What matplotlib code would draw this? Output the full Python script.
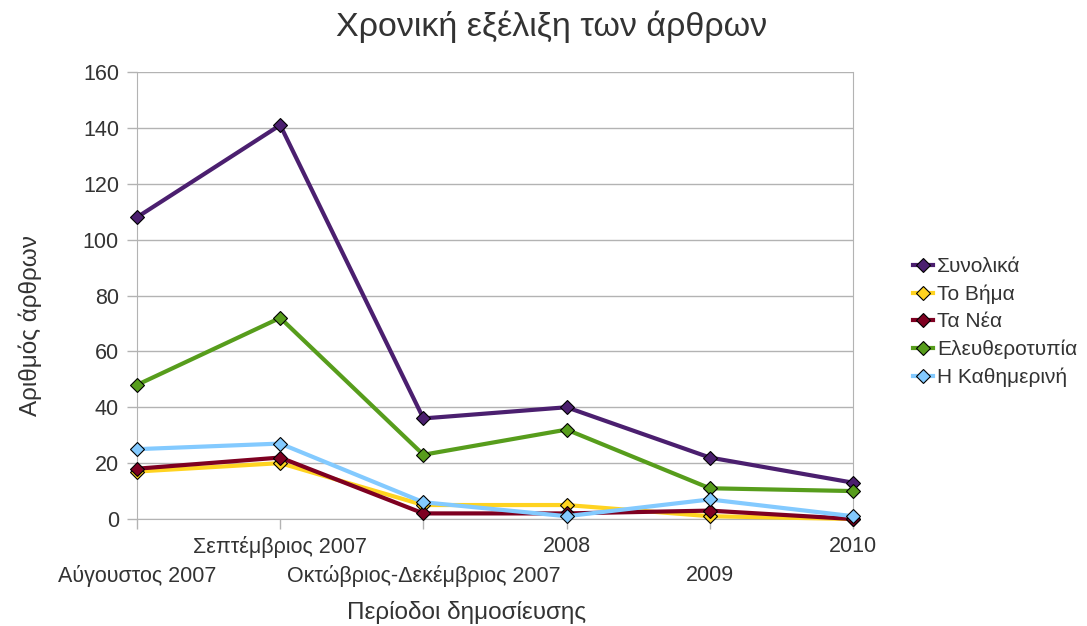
import matplotlib.pyplot as plt

plt.rcParams['font.family'] = ['Liberation Sans', 'DejaVu Sans']

periods = ["Αύγουστος 2007", "Σεπτέμβριος 2007", "Οκτώβριος-Δεκέμβριος 2007",
           "2008", "2009", "2010"]
series_names = ["Συνολικά", "Το Βήμα", "Τα Νέα", "Ελευθεροτυπία", "Η Καθημερινή"]
synolika = [108, 141, 36, 40, 22, 13]
to_vima = [17, 20, 5, 5, 1, 0]
ta_nea = [18, 22, 2, 2, 3, 0]
eleftherotypia = [48, 72, 23, 32, 11, 10]
kathimerini = [25, 27, 6, 1, 7, 1]
colors = ["#4b1f6f", "#ffd320", "#7e0021", "#579d1c", "#83caff"]

text_col = "#333333"
grid_col = "#b3b3b3"
W, H = 1087, 626

fig = plt.figure(figsize=(W / 100, H / 100), dpi=100)
ax = fig.add_axes([137 / W, 1 - 519 / H, (853 - 137) / W, (519 - 72) / H])

x = list(range(len(periods)))
all_series = [synolika, to_vima, ta_nea, eleftherotypia, kathimerini]
for i, (name, vals, col) in enumerate(zip(series_names, all_series, colors)):
    ax.plot(x, vals, color=col, lw=3, marker='D', markersize=7.5,
            markerfacecolor=col, markeredgecolor='black', markeredgewidth=0.8,
            label=name, zorder=3 + i, clip_on=False)

ax.set_xlim(0, len(periods) - 1)
ax.set_ylim(0, 160)
ax.set_yticks(range(0, 161, 20))

# staggered category labels: even ones on the lower row, odd ones on the upper
ax.set_xticks(x[0::2])
ax.set_xticklabels(periods[0::2])
ax.set_xticks(x[1::2], minor=True)
ax.set_xticklabels(periods[1::2], minor=True)

ax.grid(axis='y', color=grid_col, lw=1)
ax.set_axisbelow(True)
for s in ['left', 'right', 'bottom']:
    ax.spines[s].set_color(grid_col)
ax.spines['top'].set_visible(False)
ax.tick_params(axis='both', which='both', colors=grid_col, labelcolor=text_col,
               labelsize=15.5, length=7, width=1)
ax.tick_params(axis='x', which='minor', pad=5)
ax.tick_params(axis='x', which='major', pad=26)
ax.tick_params(axis='y', pad=6)

fig.text(552 / W, 1 - 27 / H, "Χρονική εξέλιξη των άρθρων", fontsize=24.5,
         color=text_col, ha='center', va='center')
fig.text(467 / W, 1 - 612 / H, "Περίοδοι δημοσίευσης", fontsize=17.5,
         color=text_col, ha='center', va='center')
fig.text(30 / W, 1 - 326 / H, "Αριθμός άρθρων", fontsize=17.5, rotation=90,
         color=text_col, ha='center', va='center')

leg = ax.legend(loc='center left', bbox_to_anchor=(903 / W, 1 - 322 / H),
                bbox_transform=fig.transFigure, frameon=False,
                fontsize=15, handlelength=0.95, handletextpad=0.2,
                labelspacing=0.4, labelcolor=text_col, borderpad=0)

fig.savefig("out.png", dpi=100)
